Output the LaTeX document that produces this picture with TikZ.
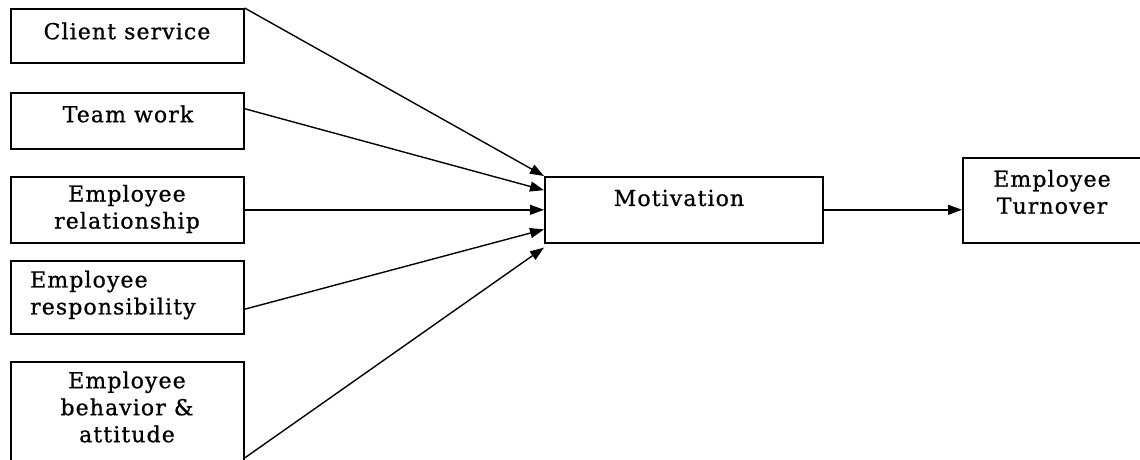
\documentclass[tikz,border=0pt]{standalone}
\usepackage{fontspec}
\setmainfont{DejaVu Serif}[LetterSpace=5,FakeBold=0.8]
\usetikzlibrary{arrows.meta,calc}
\begin{document}
\begin{tikzpicture}[x=1pt,y=-1pt,
  box/.style={draw,line width=1.6pt,inner sep=0pt,anchor=north west},
  txt/.style={font=\fontsize{22}{27}\selectfont,align=center,inner sep=0pt},
  link/.style={line width=1.4pt,-{Triangle[length=14pt,width=10pt]}}]
\useasboundingbox (0,0) rectangle (1140,459);
\clip (0,0) rectangle (1140,459);
% factor boxes on the left
\node[box,minimum width=233pt,minimum height=54pt] (cs) at (10,8) {};
\node[box,minimum width=233pt,minimum height=56pt] (tw) at (10,92) {};
\node[box,minimum width=233pt,minimum height=66pt] (er) at (10,176) {};
\node[box,minimum width=233pt,minimum height=73pt] (rs) at (10,260) {};
\node[box,minimum width=233pt,minimum height=110pt] (eb) at (10,361) {};
% central and outcome boxes
\node[box,minimum width=278pt,minimum height=66pt] (mot) at (544,176) {};
\node[box,minimum width=200pt,minimum height=85pt] (to) at (962,157) {};
% labels
\node[txt] (tcs) at (127,31) {Client service};
\node[txt] (ttw) at (128,114) {Team work};
\node[txt] (ter) at (127,209) {Employee\\relationship};
\node[txt,align=left,anchor=west] (trs) at (30,295) {Employee\\responsibility};
\node[txt] (teb) at (127,407) {Employee\\behavior \&\\attitude};
\node[txt] (tmot) at (679,198) {Motivation};
\node[txt] (tto) at (1052,192) {Employee\\Turnover};
% arrows into Motivation
\draw[link] (cs.north east) -- (mot.north west);
\draw[link] ($(tw.north east)!0.29!(tw.south east)$) -- ($(mot.north west)!0.21!(mot.south west)$);
\draw[link] (er.east) -- (mot.west);
\draw[link] ($(rs.north east)!0.66!(rs.south east)$) -- ($(mot.north west)!0.79!(mot.south west)$);
\draw[link] ($(eb.north east)+(0,97)$) -- ($(mot.south west)+(0,4)$);
% arrow to Turnover
\draw[link] (mot.east) -- (mot.east -| to.west);
\end{tikzpicture}
\end{document}
